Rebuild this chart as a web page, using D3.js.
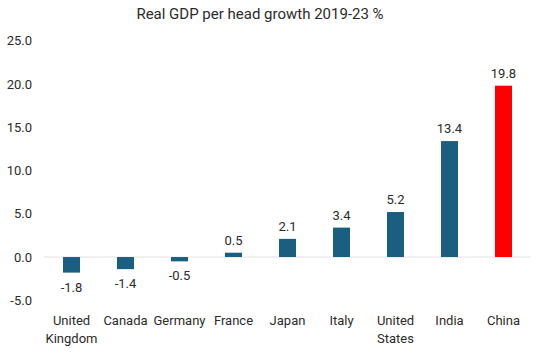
<!DOCTYPE html>
<html lang="en">
<head>
<meta charset="UTF-8">
<title>Real GDP per head growth</title>
<script src="https://d3js.org/d3.v7.min.js"></script>
<style>
  body { margin: 0; background: #fff; }
  text { font-family: Roboto, "Open Sans", sans-serif; fill: #2b2b2b; }
</style>
</head>
<body>
<div id="chart"></div>
<script>
const countries = ["United Kingdom", "Canada", "Germany", "France", "Japan", "Italy", "United States", "India", "China"];
const growth = [-1.8, -1.4, -0.5, 0.5, 2.1, 3.4, 5.2, 13.4, 19.8];
const yTicks = [-5, 0, 5, 10, 15, 20, 25];

const W = 540, H = 352;
// plain hyphen instead of unicode minus
const fmt = v => d3.format(".1f")(v).replace("\u2212", "-");

const svg = d3.select("#chart").append("svg")
    .attr("width", W)
    .attr("height", H);

const x = d3.scaleBand()
    .domain(countries)
    .range([44.5, 530.5])
    .paddingInner(0.685)
    .paddingOuter(0.3425);

const y = d3.scaleLinear()
    .domain([-5, 25])
    .range([300.3, 40.7]);

// title
svg.append("text")
    .attr("x", 260)
    .attr("y", 19)
    .attr("text-anchor", "middle")
    .style("font-size", "15px")
    .text("Real GDP per head growth 2019-23 %");

// y axis labels (no line)
const yAxis = svg.append("g")
    .attr("transform", "translate(32,0)")
    .call(d3.axisLeft(y).tickValues(yTicks).tickFormat(fmt).tickSize(0).tickPadding(0));
yAxis.select(".domain").remove();
yAxis.selectAll("text")
    .style("font-size", "13px")
    .style("font-family", "Roboto, sans-serif")
    .attr("fill", "#2b2b2b");

// zero line
svg.append("line")
    .attr("x1", 44)
    .attr("x2", 531)
    .attr("y1", y(0))
    .attr("y2", y(0))
    .attr("stroke", "#e3e3e3")
    .attr("stroke-width", 1);

// bars
svg.selectAll(".bar")
    .data(countries)
    .enter()
    .append("rect")
    .attr("class", "bar")
    .attr("x", d => x(d))
    .attr("width", x.bandwidth())
    .attr("y", (d, i) => y(Math.max(0, growth[i])))
    .attr("height", (d, i) => Math.abs(y(growth[i]) - y(0)))
    .attr("fill", d => d === "China" ? "#ff0000" : "#1a5e80");

// value labels
svg.selectAll(".val")
    .data(countries)
    .enter()
    .append("text")
    .attr("class", "val")
    .attr("x", d => x(d) + x.bandwidth() / 2)
    .attr("y", (d, i) => growth[i] >= 0 ? y(growth[i]) - 8 : y(growth[i]) + 19)
    .attr("text-anchor", "middle")
    .style("font-size", "13px")
    .text((d, i) => fmt(growth[i]));

// category labels
const cat = svg.selectAll(".cat")
    .data(countries)
    .enter()
    .append("text")
    .attr("class", "cat")
    .attr("x", d => x(d) + x.bandwidth() / 2)
    .attr("y", 325)
    .attr("text-anchor", "middle")
    .style("font-size", "13px");

cat.each(function(d) {
    const parts = d.split(" ");
    const t = d3.select(this);
    parts.forEach((p, i) => {
        t.append("tspan")
            .attr("x", x(d) + x.bandwidth() / 2)
            .attr("dy", i === 0 ? 0 : 18)
            .text(p);
    });
});
</script>
</body>
</html>
